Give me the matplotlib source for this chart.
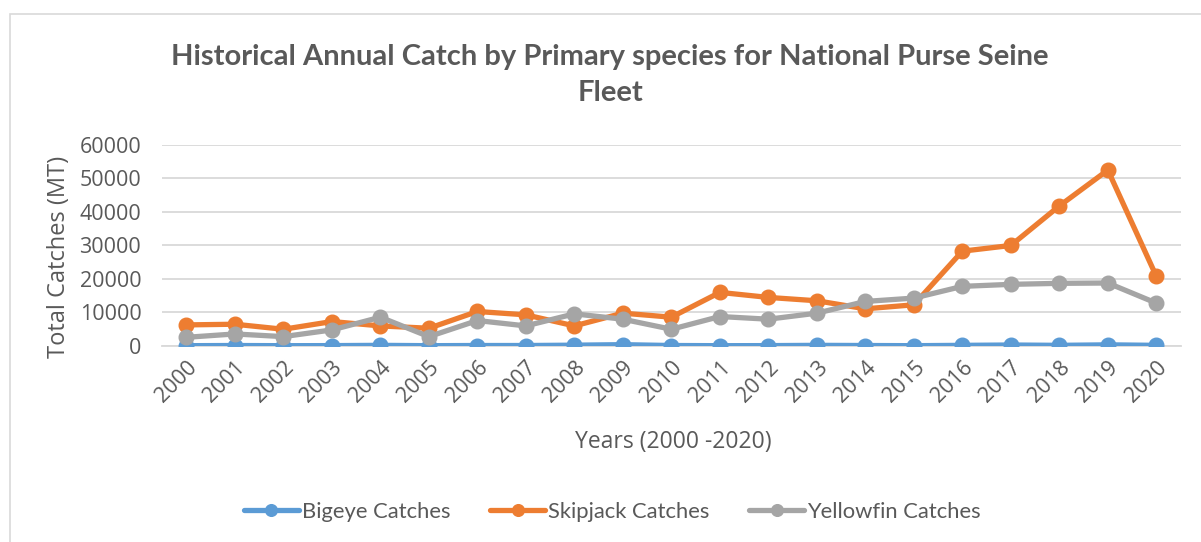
import matplotlib
matplotlib.use("Agg")
import matplotlib.pyplot as plt
from matplotlib.patches import Rectangle

plt.rcParams["font.family"] = ["Open Sans", "DejaVu Sans"]

years = [str(y) for y in range(2000, 2021)]
bigeye = [100, 150, 100, 120, 200, 100, 150, 150, 250, 400, 150,
          100, 120, 200, 150, 100, 200, 300, 200, 350, 200]
skipjack = [6300, 6500, 5000, 7300, 6000, 5300, 10300, 9300, 6000, 9800, 8600,
            16000, 14500, 13500, 11100, 12300, 28300, 30000, 41800, 52500, 20800]
yellowfin = [2600, 3600, 2800, 4800, 8600, 2800, 7600, 6000, 9600, 8000, 5000,
             8800, 8000, 9800, 13300, 14300, 17800, 18400, 18700, 18800, 12800]

series = [
    ("Bigeye Catches", bigeye, "#5B9BD5"),
    ("Skipjack Catches", skipjack, "#ED7D31"),
    ("Yellowfin Catches", yellowfin, "#A5A5A5"),
]

TXT = "#595959"

fig = plt.figure(figsize=(12.01, 5.42), dpi=100)
ax = fig.add_axes([0.135, 0.3616, 0.848, 0.371])

# chart frame (cropped on right/bottom)
fig.patches.append(Rectangle((10 / 1201, -0.05), 1.2, 1 - 14 / 542 + 0.05,
                             transform=fig.transFigure, fill=False,
                             edgecolor="#D9D9D9", lw=1.2))

x = list(range(len(years)))
for name, vals, col in series:
    ax.plot(x, vals, color=col, lw=3.8, marker="o", markersize=10.5,
            label=name, solid_capstyle="round", zorder=3)

ax.set_xlim(-0.5, len(years) - 0.5)
ax.set_ylim(0, 60000)
ax.set_yticks(range(0, 60001, 10000))
ax.set_xticks(x)
ax.set_xticklabels(years, rotation=45, ha="right", rotation_mode="anchor")
ax.tick_params(axis="both", length=0, labelsize=15.5, colors=TXT)
ax.tick_params(axis="x", pad=8)
ax.tick_params(axis="y", pad=15)
ax.grid(axis="y", color="#D9D9D9", lw=1.3)
ax.set_axisbelow(True)
for s in ["top", "right", "left"]:
    ax.spines[s].set_visible(False)
ax.spines["bottom"].set_color("#D9D9D9")
ax.spines["bottom"].set_linewidth(1.3)

fig.text(59 / 1201, 1 - 257 / 542, "Total Catches (MT)", rotation=90,
         ha="center", va="center", fontsize=17, color=TXT)
fig.text(673 / 1201, 1 - 442 / 542, "Years (2000 -2020)", ha="center", va="center",
         fontsize=16.5, color=TXT)
fig.text(0.508, 1 - 75 / 542,
         "Historical Annual Catch by Primary species for National Purse Seine\nFleet",
         ha="center", va="center", fontsize=21, fontweight="bold", color=TXT,
         family=["Lato", "DejaVu Sans"], linespacing=1.45)

handles, labels = ax.get_legend_handles_labels()
fig.legend(handles, labels, loc="center", bbox_to_anchor=(0.51, 1 - 512 / 542),
           ncol=3, frameon=False, labelcolor=TXT,
           prop={"family": ["Lato", "DejaVu Sans"], "size": 15.8},
           handlelength=2.5, handletextpad=0.15, columnspacing=1.8,
           markerscale=0.8)

fig.savefig("out.png", dpi=100)
